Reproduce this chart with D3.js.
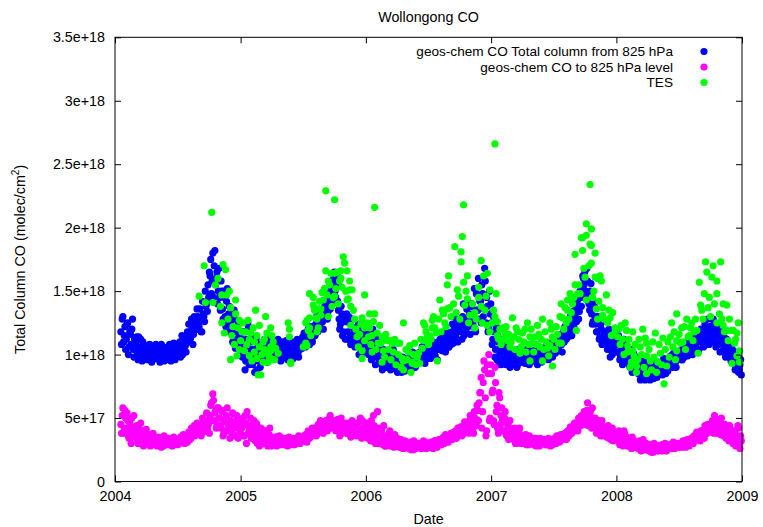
<!DOCTYPE html>
<html><head><meta charset="utf-8">
<script src="https://cdn.jsdelivr.net/npm/d3@7"></script>
<style>
body{margin:0;background:#fff}
svg{display:block}
text{font-family:"Liberation Sans",Arial,Helvetica,sans-serif;font-size:14.3px;fill:#000}
</style>
</head><body><svg id="c" width="763" height="527"></svg>
<script>
// ---------------- DATA ----------------
const chartTitle = "Wollongong CO";
const xTitle = "Date";
const seriesNames = ["geos-chem CO Total column from 825 hPa", "geos-chem CO to 825 hPa level", "TES"];
const seriesColors = ["#0000ff", "#ff00ff", "#00ff00"];
const valueUnit = 1e16; // values below are in 1e16 molec/cm2
const modelStart = "2004-01-18";
const modelStepDays = 4;   // samples A at start + 4i days, samples B at start + 4i + 2 days

const geosTotalA = [
// 2004
118,128,110,122,
112,125,106,116,120,104,112,
108,102,114,99,106,110,101,97,
104,98,108,101,96,103,99,
100,105,97,103,98,106,101,96,
104,99,107,102,97,105,100,108,
103,110,106,100,112,107,113,
110,118,114,122,116,126,120,130,
122,128,118,132,126,138,134,145,
162,148,180,170,155,165,150,
145,158,136,150,130,142,126,138,
124,132,118,128,112,122,116,108,
// 2005
112,100,118,95,106,122,98,110,
92,104,97,88,108,100,94,
102,108,98,110,104,99,107,103,
106,101,109,104,98,107,103,
100,106,103,109,101,105,99,107,
104,110,106,101,108,112,105,
110,114,108,118,112,116,120,114,
118,124,120,128,122,130,126,134,
130,138,134,145,140,152,160,
150,156,142,128,124,132,118,126,
126,118,130,114,122,110,120,
116,108,124,112,104,118,110,114,
// 2006
112,106,118,102,110,98,108,104,
100,96,106,92,102,98,94,
97,92,101,95,89,99,93,96,
92,88,96,90,94,87,93,
95,91,98,93,100,96,92,99,
97,102,95,100,104,98,101,
100,105,98,107,103,99,108,104,
106,110,103,112,108,115,110,106,
112,118,109,122,114,120,126,
118,124,130,115,128,136,122,132,
126,140,132,120,148,135,128,
142,155,130,168,125,138,120,132,
// 2007
125,112,118,104,96,110,100,92,
102,96,106,98,94,101,97,
99,95,103,97,92,100,96,94,
97,101,94,99,96,103,98,
100,96,104,99,95,102,98,101,
103,99,106,101,105,100,107,
104,108,102,110,106,112,108,114,
110,116,120,114,124,118,128,122,
130,126,138,134,145,152,160,
165,148,158,140,150,132,126,138,
124,118,128,114,120,110,116,
118,108,114,104,112,100,106,110,
// 2008
108,102,112,98,105,96,110,100,
95,102,90,98,88,96,92,
90,85,94,82,91,87,80,93,
88,84,92,86,81,90,85,89,
90,86,94,88,92,85,95,91,
93,97,90,99,94,96,100,
98,102,96,105,100,104,99,107,
103,108,101,112,106,110,104,114,
110,116,108,120,113,118,111,
122,115,126,112,120,108,118,114,
110,104,113,100,108,98,104,
100,94,98,90,95,86,92,84
];
const geosTotalB = [
// 2004
108,130,115,104,
124,100,118,108,128,98,110,
114,96,104,112,95,108,100,106,
96,106,100,94,105,97,108,
97,102,94,108,100,95,104,99,
98,108,95,103,109,96,102,99,
108,98,115,104,110,102,118,
124,112,128,108,130,120,136,125,
136,118,142,130,150,140,155,165,
175,158,145,182,160,140,168,
135,150,128,145,122,152,132,118,
128,110,135,105,120,126,104,118,
// 2005
98,118,88,112,125,92,104,115,
100,86,112,95,104,90,108,
96,112,100,94,108,112,97,100,
110,98,104,112,100,95,110,
104,98,111,96,108,102,110,97,
100,107,112,98,104,109,114,
117,106,113,120,108,122,110,118,
115,130,118,124,132,126,120,138,
142,128,150,136,156,148,165,
145,162,135,120,138,115,130,112,
132,112,125,108,128,116,106,
110,122,100,118,108,125,102,112,
// 2006
118,100,112,96,120,104,92,114,
106,94,110,88,104,100,90,
93,100,88,96,104,90,98,86,
96,90,86,98,91,95,89,
92,98,88,102,94,90,101,96,
100,95,106,98,93,103,97,
106,97,102,110,100,106,96,110,
112,104,116,108,102,118,106,114,
108,124,116,112,128,110,122,
128,112,140,122,118,142,126,116,
138,124,152,118,135,160,142,
125,148,136,158,145,118,150,140,
// 2007
108,130,98,122,115,92,105,112,
96,108,92,100,104,90,99,
92,102,98,90,104,94,101,97,
100,93,104,96,92,100,95,
95,103,97,92,106,100,94,104,
98,106,101,96,109,103,98,
110,101,114,104,109,116,102,118,
122,112,126,118,130,115,134,126,
138,142,128,150,138,162,155,
150,168,142,135,156,124,142,130,
118,130,112,124,108,126,114,
112,104,120,98,110,116,102,108,
// 2008
102,115,96,108,92,112,98,106,
100,92,104,86,101,90,98,
86,94,80,92,84,96,88,82,
92,80,86,95,84,88,82,94,
86,93,84,97,89,92,87,96,
99,92,101,95,90,102,97,
103,96,108,98,106,101,110,102,
110,100,114,106,118,102,112,120,
118,106,124,112,128,108,122,
110,128,118,106,124,114,102,120,
116,106,98,112,102,108,95,
104,96,88,102,92,88,96
];

const geosLowerA = [
// 2004
45,52,38,56,
40,48,34,44,50,36,42,
38,33,42,30,36,40,32,35,
34,30,37,32,29,35,31,
32,29,34,30,31,28,33,30,
31,33,29,32,30,34,31,32,
33,31,35,32,34,36,33,
35,38,34,37,40,36,39,42,
38,42,45,39,44,48,41,46,
52,62,69,48,56,44,58,
50,42,55,38,47,52,40,45,
48,38,53,42,36,50,44,39,
// 2005
42,50,36,46,55,38,44,34,
40,48,32,45,38,28,42,
36,30,40,33,28,37,31,35,
33,30,35,31,34,29,32,
31,33,30,34,31,29,33,32,
32,30,34,31,33,35,32,
34,32,36,33,38,35,37,40,
38,42,40,45,41,47,43,46,
44,48,42,50,45,47,43,
46,42,49,40,45,38,44,41,
43,38,46,40,36,44,39,
42,37,46,40,35,48,38,44,
// 2006
40,34,46,32,38,52,35,30,
55,36,31,40,29,34,28,
36,31,40,29,34,27,33,30,
31,27,33,29,26,32,28,
29,26,31,28,25,30,27,29,
28,30,26,29,27,31,28,
29,27,31,28,30,32,29,31,
30,33,31,35,32,34,36,33,
35,38,34,37,40,36,39,
38,42,37,44,40,46,41,48,
40,46,38,50,44,56,62,
70,42,78,88,36,92,100,50,
// 2007
85,72,45,78,60,38,66,52,
48,40,55,36,44,34,42,
38,33,42,30,36,40,32,35,
34,30,37,32,29,35,31,
32,29,34,30,33,28,31,30,
30,32,29,33,31,28,32,
31,34,30,33,36,32,35,34,
35,38,34,40,37,42,39,44,
42,46,40,48,44,50,47,
52,45,62,48,55,42,50,46,
44,40,48,38,45,36,42,
40,35,44,38,33,42,36,39,
// 2008
36,32,40,30,35,28,38,33,
31,28,34,26,30,32,27,
29,26,32,24,28,30,25,27,
27,24,29,26,23,28,25,27,
26,28,24,29,27,25,28,26,
27,29,26,30,28,27,29,
28,30,27,31,29,32,30,28,
31,34,30,36,33,38,35,32,
36,40,34,42,38,44,39,
42,48,38,50,44,40,46,37,
42,36,45,34,40,32,38,
36,30,40,28,34,42,26,32
];
const geosLowerB = [
// 2004
38,58,42,50,
54,36,46,30,40,52,35,
44,30,36,46,33,28,39,41,
30,36,28,34,38,30,33,
28,35,31,27,33,36,29,32,
34,29,32,28,35,30,33,29,
30,35,32,37,30,34,31,
39,33,42,36,44,38,46,40,
44,36,50,42,46,54,44,38,
60,48,64,54,42,58,50,
44,56,36,48,40,58,44,34,
42,54,36,46,52,34,44,48,
// 2005
48,36,52,30,44,40,50,36,
44,34,46,30,42,36,34,
30,40,34,38,30,42,28,34,
30,35,28,33,36,30,34,
34,29,32,28,35,31,30,34,
29,33,31,36,30,32,34,
32,37,31,40,34,36,42,38,
42,36,44,39,48,42,38,44,
48,40,46,52,42,48,45,
40,48,44,36,50,42,40,46,
38,45,42,35,48,40,44,
36,46,40,50,34,42,38,46,
// 2006
46,38,42,48,33,44,30,40,
42,30,38,34,44,28,36,
32,38,28,35,30,37,29,34,
28,33,30,26,31,28,30,
27,30,25,28,32,26,29,27,
30,26,28,32,29,26,30,
27,30,29,26,32,30,27,33,
33,29,34,30,37,33,31,35,
38,33,39,36,34,42,37,
43,36,40,47,39,44,38,52,
48,42,55,45,60,48,70,
82,55,95,66,40,85,48,92,
// 2007
70,48,90,55,42,70,45,58,
40,50,38,46,33,48,36,
34,40,30,37,33,42,30,36,
31,35,29,33,36,30,33,
30,34,28,32,29,34,30,33,
33,29,31,34,30,33,29,
33,30,36,32,31,37,33,36,
38,33,40,36,43,38,41,46,
46,40,50,44,52,46,55,
48,56,44,52,46,58,44,50,
38,46,42,36,48,40,38,
36,42,34,40,37,32,38,34,
// 2008
34,38,29,36,32,40,31,35,
28,33,30,35,27,31,29,
27,31,26,29,33,25,30,28,
25,28,23,27,30,26,28,24,
28,25,29,26,30,24,27,29,
29,27,31,26,28,30,27,
30,28,32,29,27,33,29,31,
34,31,36,33,39,34,37,40,
40,36,44,38,45,40,42,
46,40,52,45,38,48,42,50,
38,44,35,42,37,44,34,
40,34,38,32,44,30,36
];

// TES: [decimal year, value in 1e16]
const tesPoints = [
[2004.67,146],[2004.71,170],[2004.72,141],[2004.77,212],[2004.78,141],[2004.80,155],[2004.82,160],[2004.84,138],[2004.85,147],[2004.85,125],[2004.86,171],[2004.87,117],[2004.88,167],[2004.89,147],[2004.90,128],[2004.91,150],[2004.92,137],[2004.92,96],[2004.93,115],[2004.94,122],[2004.95,108],[2004.96,143],[2004.96,132],[2004.97,99],[2004.98,121],[2004.99,127],[2004.99,104],[2005.00,111],
[2005.01,118],[2005.02,125],[2005.03,103],[2005.04,118],[2005.05,108],[2005.06,127],[2005.07,112],[2005.07,99],[2005.08,117],[2005.09,95],[2005.10,121],[2005.11,110],[2005.11,102],[2005.12,135],[2005.13,97],[2005.13,115],[2005.14,84],[2005.15,106],[2005.15,123],[2005.16,84],[2005.17,100],[2005.18,110],[2005.18,94],[2005.19,104],[2005.19,112],[2005.20,130],[2005.21,117],[2005.21,101],[2005.22,94],[2005.23,98],[2005.24,106],[2005.24,121],[2005.24,103],[2005.25,115],[2005.26,110],[2005.27,96],[2005.28,105],[2005.30,101],[2005.38,125],[2005.39,114],[2005.39,120],[2005.40,94],[2005.40,93],[2005.50,106],[2005.52,109],[2005.52,125],[2005.53,107],[2005.53,127],[2005.54,119],[2005.55,148],[2005.55,129],[2005.55,121],[2005.56,115],[2005.58,145],[2005.58,139],[2005.59,135],[2005.60,129],[2005.61,128],[2005.61,118],[2005.62,136],[2005.62,121],[2005.63,142],[2005.64,131],[2005.64,136],[2005.65,149],[2005.66,143],[2005.67,152],[2005.68,166],[2005.68,229],[2005.69,147],[2005.70,158],[2005.70,130],[2005.71,155],[2005.72,164],[2005.73,138],[2005.74,145],[2005.75,146],[2005.75,164],[2005.75,222],[2005.76,152],[2005.77,165],[2005.78,140],[2005.79,158],[2005.80,160],[2005.80,166],[2005.81,153],[2005.82,177],[2005.83,172],[2005.84,150],[2005.85,166],[2005.85,143],[2005.86,144],[2005.87,158],[2005.87,151],[2005.88,123],[2005.88,138],[2005.89,151],[2005.90,135],[2005.91,128],[2005.92,120],[2005.93,114],[2005.94,106],[2005.95,116],[2005.96,124],[2005.97,129],[2005.97,103],[2005.97,97],[2005.99,147],[2005.99,121],[2005.99,111],
[2006.01,125],[2006.02,114],[2006.03,132],[2006.03,121],[2006.04,108],[2006.05,115],[2006.05,102],[2006.06,126],[2006.07,216],[2006.07,132],[2006.08,104],[2006.09,117],[2006.10,109],[2006.11,123],[2006.12,109],[2006.13,94],[2006.13,114],[2006.14,103],[2006.15,98],[2006.16,116],[2006.17,111],[2006.18,104],[2006.19,111],[2006.20,96],[2006.21,109],[2006.22,102],[2006.23,112],[2006.24,92],[2006.25,109],[2006.26,100],[2006.27,109],[2006.28,90],[2006.29,97],[2006.30,95],[2006.30,88],[2006.30,125],[2006.32,104],[2006.33,96],[2006.34,102],[2006.35,107],[2006.36,86],[2006.37,93],[2006.37,94],[2006.38,100],[2006.39,109],[2006.40,92],[2006.41,98],[2006.42,101],[2006.43,93],[2006.44,112],[2006.45,105],[2006.46,125],[2006.47,123],[2006.47,111],[2006.48,118],[2006.49,114],[2006.50,108],[2006.51,115],[2006.52,112],[2006.53,127],[2006.53,121],[2006.54,130],[2006.55,121],[2006.56,117],[2006.57,95],[2006.58,128],[2006.59,143],[2006.60,118],[2006.61,135],[2006.62,132],[2006.63,125],[2006.64,122],[2006.65,155],[2006.65,136],[2006.66,162],[2006.67,137],[2006.68,130],[2006.70,140],[2006.71,185],[2006.72,133],[2006.73,151],[2006.74,146],[2006.75,128],[2006.76,181],[2006.76,173],[2006.77,193],[2006.78,218],[2006.78,157],[2006.79,139],[2006.80,150],[2006.81,162],[2006.81,144],[2006.82,125],[2006.83,131],[2006.85,140],[2006.87,133],[2006.87,121],[2006.88,128],[2006.90,153],[2006.90,145],[2006.92,174],[2006.92,138],[2006.93,125],[2006.94,162],[2006.95,135],[2006.96,146],[2006.97,164],[2006.97,123],[2006.99,151],[2006.99,118],
[2007.01,125],[2007.02,135],[2007.03,266],[2007.03,130],[2007.04,148],[2007.05,115],[2007.05,126],[2007.06,112],[2007.07,120],[2007.08,108],[2007.09,121],[2007.10,112],[2007.11,117],[2007.12,122],[2007.13,111],[2007.14,116],[2007.15,106],[2007.16,110],[2007.17,129],[2007.18,114],[2007.19,104],[2007.20,121],[2007.21,118],[2007.22,112],[2007.23,101],[2007.24,106],[2007.25,117],[2007.26,110],[2007.27,120],[2007.28,102],[2007.29,125],[2007.30,108],[2007.31,114],[2007.31,95],[2007.32,120],[2007.33,109],[2007.34,102],[2007.35,114],[2007.36,108],[2007.37,123],[2007.38,116],[2007.39,106],[2007.40,112],[2007.41,128],[2007.41,95],[2007.42,104],[2007.43,118],[2007.44,110],[2007.45,105],[2007.46,99],[2007.47,125],[2007.47,107],[2007.48,120],[2007.49,114],[2007.49,91],[2007.50,112],[2007.51,104],[2007.52,122],[2007.53,116],[2007.54,109],[2007.55,130],[2007.56,109],[2007.56,140],[2007.57,129],[2007.58,120],[2007.59,137],[2007.60,125],[2007.61,135],[2007.61,143],[2007.62,128],[2007.63,148],[2007.64,133],[2007.65,140],[2007.66,145],[2007.67,179],[2007.67,155],[2007.68,119],[2007.69,148],[2007.70,155],[2007.71,148],[2007.72,192],[2007.73,192],[2007.73,182],[2007.74,168],[2007.75,161],[2007.76,203],[2007.76,194],[2007.76,143],[2007.78,170],[2007.79,234],[2007.79,187],[2007.80,199],[2007.80,186],[2007.80,172],[2007.81,145],[2007.82,150],[2007.83,180],[2007.83,161],[2007.84,136],[2007.85,160],[2007.85,128],[2007.86,142],[2007.87,162],[2007.88,158],[2007.89,131],[2007.89,137],[2007.90,128],[2007.92,147],[2007.93,125],[2007.94,135],[2007.95,129],[2007.96,115],[2007.97,133],[2007.98,116],[2007.99,121],
[2008.01,114],[2008.02,120],[2008.03,108],[2008.04,123],[2008.05,112],[2008.06,100],[2008.07,125],[2008.08,119],[2008.09,107],[2008.09,102],[2008.10,112],[2008.11,90],[2008.12,94],[2008.13,118],[2008.13,103],[2008.14,99],[2008.15,108],[2008.16,91],[2008.16,86],[2008.17,96],[2008.18,112],[2008.19,106],[2008.20,100],[2008.21,120],[2008.22,90],[2008.23,113],[2008.24,109],[2008.24,85],[2008.24,99],[2008.26,104],[2008.27,95],[2008.28,88],[2008.29,110],[2008.30,98],[2008.31,117],[2008.32,86],[2008.33,94],[2008.34,108],[2008.35,101],[2008.36,92],[2008.37,113],[2008.38,77],[2008.39,104],[2008.40,91],[2008.41,110],[2008.42,98],[2008.43,114],[2008.44,125],[2008.45,106],[2008.46,118],[2008.47,96],[2008.48,132],[2008.48,111],[2008.48,103],[2008.50,116],[2008.51,109],[2008.52,121],[2008.53,110],[2008.54,122],[2008.55,104],[2008.56,128],[2008.57,114],[2008.58,115],[2008.59,121],[2008.60,125],[2008.61,111],[2008.62,118],[2008.63,128],[2008.64,119],[2008.65,101],[2008.66,157],[2008.67,139],[2008.68,135],[2008.69,128],[2008.70,148],[2008.71,173],[2008.72,165],[2008.73,137],[2008.74,145],[2008.75,130],[2008.76,161],[2008.77,170],[2008.78,140],[2008.80,158],[2008.80,148],[2008.80,125],[2008.82,132],[2008.83,173],[2008.84,128],[2008.85,140],[2008.85,123],[2008.86,118],[2008.88,139],[2008.88,119],[2008.89,111],[2008.90,128],[2008.92,93],[2008.92,119],[2008.93,119],[2008.94,109],[2008.95,112],[2008.96,117],[2008.96,99],[2008.97,125],[2008.98,103],[2008.98,94]
];

const xTickYears = [2004, 2005, 2006, 2007, 2008, 2009];
const yTickValues = [0, 5e17, 1e18, 1.5e18, 2e18, 2.5e18, 3e18, 3.5e18];
const yTickLabels = ["0", "5e+17", "1e+18", "1.5e+18", "2e+18", "2.5e+18", "3e+18", "3.5e+18"];

// ---------------- CHART ----------------
const svg = d3.select("#c");
const L = 115, R = 742, T = 37.3, B = 481.5;
const dec2date = yv => {
  const yr = Math.floor(yv);
  const s = new Date(yr, 0, 1), e = new Date(yr + 1, 0, 1);
  return new Date(s.getTime() + (yv - yr) * (e - s));
};
const x = d3.scaleTime().domain([new Date(2004,0,1), new Date(2009,0,1)]).range([L, R]);
const y = d3.scaleLinear().domain([0, 3.5e18]).range([B, T]);

const start = d3.timeParse("%Y-%m-%d")(modelStart);
const dateA = i => d3.timeDay.offset(start, i * modelStepDays);
const dateB = i => d3.timeDay.offset(start, i * modelStepDays + modelStepDays / 2);

const modelSeries = (a, b) => {
  const out = [];
  a.forEach((v, i) => {
    out.push([dateA(i), v]);
    if (i < b.length) out.push([dateB(i), b[i]]);
  });
  return out;
};

const plot = svg.append("g");
const r = 3.6;
function drawSeries(data, color) {
  plot.append("g").selectAll("circle").data(data).join("circle")
    .attr("cx", d => x(d[0])).attr("cy", d => y(d[1] * valueUnit))
    .attr("r", r).attr("fill", color);
}
drawSeries(modelSeries(geosTotalA, geosTotalB), seriesColors[0]);
drawSeries(modelSeries(geosLowerA, geosLowerB), seriesColors[1]);
drawSeries(tesPoints.map(p => [dec2date(p[0]), p[1]]), seriesColors[2]);

// axes
const xTicks = xTickYears.map(yy => new Date(yy, 0, 1));
const ax = g => {
  g.select(".domain").remove();
  g.selectAll(".tick line").attr("stroke", "#000");
  g.attr("font-family", null).attr("font-size", null);
  g.selectAll("text").attr("fill", "#000");
};
svg.append("g").attr("transform", `translate(0,${B})`)
  .call(d3.axisBottom(x).tickValues(xTicks).tickFormat(d3.timeFormat("%Y")).tickSize(-6).tickPadding(9))
  .call(ax);
svg.append("g").attr("transform", `translate(0,${T})`)
  .call(d3.axisTop(x).tickValues(xTicks).tickFormat("").tickSize(-6))
  .call(ax);
svg.append("g").attr("transform", `translate(${L},0)`)
  .call(d3.axisLeft(y).tickValues(yTickValues).tickFormat((d,i) => yTickLabels[i]).tickSize(-6).tickPadding(10))
  .call(ax);
svg.append("g").attr("transform", `translate(${R},0)`)
  .call(d3.axisRight(y).tickValues(yTickValues).tickFormat("").tickSize(-6))
  .call(ax);

svg.append("rect").attr("x", L).attr("y", T).attr("width", R - L).attr("height", B - T)
  .attr("fill", "none").attr("stroke", "#000").attr("stroke-width", 1);

// titles
svg.append("text").attr("x", (L + R) / 2).attr("y", 22).attr("text-anchor", "middle").text(chartTitle);
svg.append("text").attr("x", (L + R) / 2).attr("y", 524).attr("text-anchor", "middle").text(xTitle);
const yl = svg.append("text").attr("transform", `translate(25,${(T + B) / 2}) rotate(-90)`).attr("text-anchor", "middle");
yl.append("tspan").text("Total Column CO (molec/cm");
yl.append("tspan").attr("dy", -6).style("font-size", "10px").text("2");
yl.append("tspan").attr("dy", 6).text(")");

// legend
const legY = [51.5, 67, 82.5];
seriesNames.forEach((n, i) => {
  svg.append("text").attr("x", 673).attr("y", legY[i]).attr("dy", "0.35em").attr("text-anchor", "end")
    .style("font-size", "13.6px").text(n);
  svg.append("circle").attr("cx", 704).attr("cy", legY[i]).attr("r", r).attr("fill", seriesColors[i]);
});
</script>
</body></html>
